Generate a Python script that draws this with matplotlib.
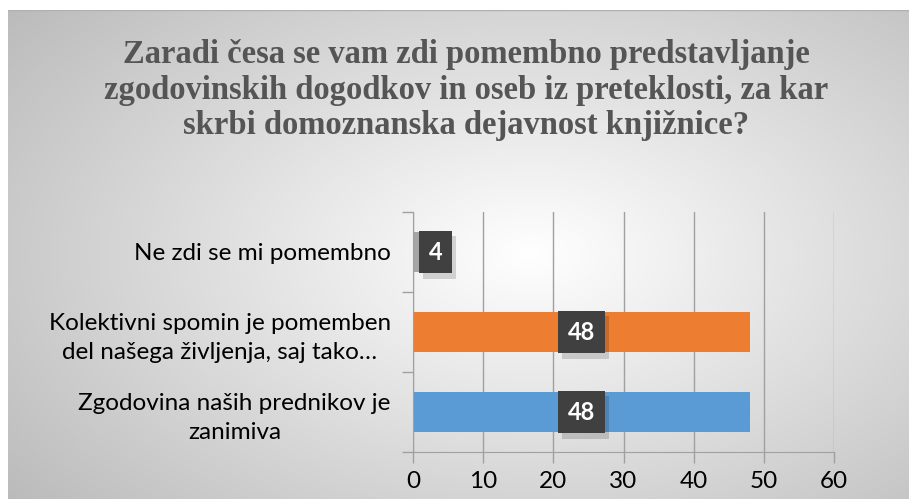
import numpy as np
import matplotlib
matplotlib.use("Agg")
import matplotlib.pyplot as plt
import matplotlib.patheffects as pe

title = "Zaradi česa se vam zdi pomembno predstavljanje\nzgodovinskih dogodkov in oseb iz preteklosti, za kar\nskrbi domoznanska dejavnost knjižnice?"
categories = ["Zgodovina naših prednikov je\nzanimiva",
              "Kolektivni spomin je pomemben\ndel našega življenja, saj tako…",
              "Ne zdi se mi pomembno"]
values = [48, 48, 4]
colors = ["#5B9BD5", "#ED7D31", "#A5A5A5"]
xticks = [0, 10, 20, 30, 40, 50, 60]

W, H = 909, 499
fig = plt.figure(figsize=(W / 100, H / 100), dpi=100)
fig.patch.set_facecolor("white")

# background gradient panel
bg = fig.add_axes([8 / W, 0, 1 - 8 / W, 1 - 10 / H])
bg.set_axis_off()
ny, nx = 200, 400
yy, xx = np.mgrid[0:1:ny * 1j, 0:1:nx * 1j]
r = np.sqrt(((xx - 0.58) / 0.6) ** 2 + ((yy - 0.5) / 0.65) ** 2)
v = 255 - 55 * np.clip(r, 0, 1.5)
img = np.clip(v, 0, 255) / 255.0
bg.imshow(np.dstack([img, img, img]), aspect="auto", extent=[0, 1, 0, 1])
bg.plot([0, 1], [1, 1], color="#b0b0b0", lw=1.0, transform=bg.transAxes)
bg.set_xlim(0, 1)
bg.set_ylim(0, 1)

# title
fig.text(466 / W, 1 - 90 / H, title, ha="center", va="center",
         family="Liberation Serif", fontweight="bold", fontsize=23.5,
         color="#555555", linespacing=1.18)

ax = fig.add_axes([413 / W, (H - 452) / H, 421 / W, 240 / H])
ax.patch.set_alpha(0)
y = np.arange(len(categories))
ax.barh(y, values, height=0.5, color=colors, zorder=2)
ax.set_xlim(0, 60)
ax.set_ylim(-0.5, 2.5)
ax.set_xticks(xticks)
ax.set_xticklabels([str(t) for t in xticks])
ax.set_yticks([-0.5, 0.5, 1.5, 2.5], minor=False)
ax.set_yticklabels([])
ax.set_yticks(y, minor=True)
ax.set_yticklabels(categories, minor=True, multialignment="center")
ax.tick_params(axis="y", which="minor", length=0, pad=16, labelsize=17.5)
ax.tick_params(axis="y", which="major", length=8, color="#a0a0a0", width=1)
ax.tick_params(axis="x", length=8, color="#a0a0a0", width=1, labelsize=17.5, pad=6)
for lab in ax.get_yticklabels(minor=True) + ax.get_xticklabels():
    lab.set_family("Lato")
    lab.set_color("#000000")
for lab in ax.get_yticklabels(minor=True):
    lab.set_linespacing(1.45)
ax.grid(axis="x", color="#a0a0a0", lw=1, zorder=0)
for s in ["top", "right"]:
    ax.spines[s].set_visible(False)
ax.spines["left"].set_color("#a0a0a0")
ax.spines["bottom"].set_color("#a0a0a0")
ax.spines["bottom"].set_zorder(3)

for yi, val in zip(y, values):
    cx = max(val / 2, 3.2)
    t = ax.text(cx, yi, str(val), ha="center", va="center", color="white",
                fontweight="bold", fontsize=17, family="Lato", zorder=5,
                bbox=dict(boxstyle="square,pad=0.42", facecolor="#404040",
                          edgecolor="none"))
    t.get_bbox_patch().set_path_effects([
        pe.SimplePatchShadow(offset=(3, -4), shadow_rgbFace="black", alpha=0.15),
        pe.Normal()])

fig.savefig("out.png", dpi=100)
